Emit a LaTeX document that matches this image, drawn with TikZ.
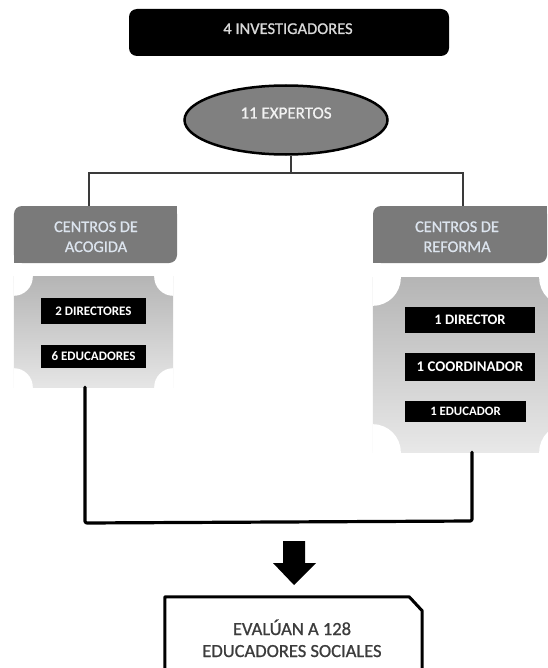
\documentclass[tikz,border=0pt]{standalone}
\usepackage{fontspec}
\setmainfont{Carlito}
\newfontfamily\heavyreg[FakeBold=0.9]{Carlito}
\usetikzlibrary{shapes.geometric}
\definecolor{boxgray}{HTML}{7A7A7A}
\definecolor{ellgray}{HTML}{808080}
\definecolor{capblue}{HTML}{DCE4EE}
\definecolor{linegray}{HTML}{3A3A3A}
\definecolor{txtdark}{HTML}{3C3C3C}
\tikzset{
  topbox/.style={fill=black, rounded corners=8bp, inner sep=0pt, minimum width=320bp, minimum height=47bp},
  ellbox/.style={ellipse, draw=black, line width=2.5bp, fill=ellgray, inner sep=0pt, minimum width=203bp, minimum height=69bp},
  graybox/.style={fill=boxgray, rounded corners=8bp, inner sep=0pt, minimum height=57bp},
  plaque/.style={inner sep=0pt},
  blackbox/.style={fill=black, text=white, inner sep=0pt, font=\bfseries},
  thinline/.style={draw=linegray, line width=1.3bp},
  heavyline/.style={draw=black, line width=3.2bp, line cap=round, line join=round, rounded corners=2bp},
  lbl/.style={anchor=base, inner sep=0pt}
}
\newcommand{\fsz}[2]{\heavyreg\fontsize{#1bp}{#2bp}\selectfont}
\newcommand{\bsz}[2]{\bfseries\fontsize{#1bp}{#2bp}\selectfont}
\begin{document}
\begin{tikzpicture}[x=1bp,y=-1bp]
\useasboundingbox (0,0) rectangle (548,668);
\clip (0,0) rectangle (548,668);
\fill[white] (0,0) rectangle (548,668);

% top box
\node[topbox] (inv) at (289,32.5) {};
\node[lbl, text=white!85!black, font=\fsz{16.5}{20}] (invt) at (288,34) {4 INVESTIGADORES};

% ellipse
\node[ellbox] (exp) at (286,120) {};
\node[lbl, text=white!95!black, font=\fsz{17}{20}] (expt) at (286,118.5) {11 EXPERTOS};

% gray caption boxes
\node[graybox, minimum width=163bp] (acog) at (95.5,234.5) {};
\fill[boxgray] (acog.north east) rectangle ++(-10,10);
\fill[boxgray] (acog.south west) rectangle ++(10,-10);
\node[lbl, text=capblue, font=\fsz{16.3}{20}] (acogt1) at (96,232) {CENTROS DE};
\node[lbl, text=capblue, font=\fsz{16.3}{20}] (acogt2) at (96,252) {ACOGIDA};

\node[graybox, minimum width=174bp] (ref) at (460,234.5) {};
\fill[boxgray] (ref.north east) rectangle ++(-10,10);
\fill[boxgray] (ref.south west) rectangle ++(10,-10);
\node[lbl, text=capblue, font=\fsz{16.3}{20}] (reft1) at (457,232) {CENTROS DE};
\node[lbl, text=capblue, font=\fsz{16.3}{20}] (reft2) at (457,252) {REFORMA};

% plaques
\node[plaque, minimum width=159bp, minimum height=110bp] (plA) at (93.5,332) {};
\begin{scope}
  \clip (plA.north west) rectangle (plA.south east);
  \shade[top color=gray!58!white, bottom color=gray!20!white] (plA.north west) rectangle (plA.south east);
  \fill[white] (plA.north west) circle[radius=19bp];
  \fill[white] (plA.north east) circle[radius=19bp];
  \fill[white] (plA.south west) circle[radius=19bp];
  \fill[white] (plA.south east) circle[radius=19bp];
\end{scope}
\node[plaque, minimum width=194bp, minimum height=174bp] (plR) at (470,365) {};
\begin{scope}
  \clip (plR.north west) rectangle (plR.south east);
  \shade[top color=gray!58!white, bottom color=gray!18!white] (plR.north west) rectangle (plR.south east);
  \fill[white] (plR.north west) circle[radius=28bp];
  \fill[white] (plR.north east) circle[radius=28bp];
  \fill[white] (plR.south west) circle[radius=28bp];
  \fill[white] (plR.south east) circle[radius=28bp];
\end{scope}

% black boxes
\node[blackbox, font=\bsz{13}{15}, minimum width=105bp, minimum height=26bp] (dirA) at (93.5,311) {2 DIRECTORES};
\node[blackbox, font=\bsz{13}{15}, minimum width=105bp, minimum height=23bp] (eduA) at (93.5,356.5) {6 EDUCADORES};
\node[blackbox, font=\bsz{14.5}{17}, minimum width=130bp, minimum height=26bp] (dirR) at (470,320) {1 DIRECTOR};
\node[blackbox, font=\bsz{14.8}{17}, minimum width=130bp, minimum height=28bp] (cooR) at (470,367) {1 COORDINADOR};
\node[blackbox, font=\bsz{12.8}{16}, minimum width=121bp, minimum height=21bp] (eduR) at (465.5,411.5) {1 EDUCADOR};

% thin connectors
\coordinate (hub) at (291,173);
\coordinate (hl) at (89,173);
\coordinate (hr) at (463,173);
\draw[thinline] (hub |- exp.south) -- (hub);
\draw[thinline] (hl |- acog.north) -- (hl) -- (hr) -- (hr |- ref.north);

% heavy connector
\coordinate (bl) at (85,523);
\coordinate (br) at (472,521);
\draw[heavyline] (bl |- plA.south) -- (bl) -- (br) -- (br |- plR.south);

% block arrow
\fill[black] (283,541) -- (305,541) -- (305,563) -- (316,563) -- (294,585) -- (273,563) -- (283,563) -- cycle;

% bottom box
\node[inner sep=0pt, minimum width=257bp, minimum height=100bp] (eval) at (293.5,647) {};
\draw[black, line width=3bp, line join=round] (eval.south west) -- (eval.north west) -- ([xshift=-13bp]eval.north east) -- ([yshift=-14bp]eval.north east) -- (eval.south east);
\node[lbl, text=txtdark, font=\fsz{18.5}{22}] (evalt1) at (292,635) {EVALÚAN A 128};
\node[lbl, text=txtdark, font=\fsz{18.5}{22}] (evalt2) at (292,657) {EDUCADORES SOCIALES};
\end{tikzpicture}
\end{document}
